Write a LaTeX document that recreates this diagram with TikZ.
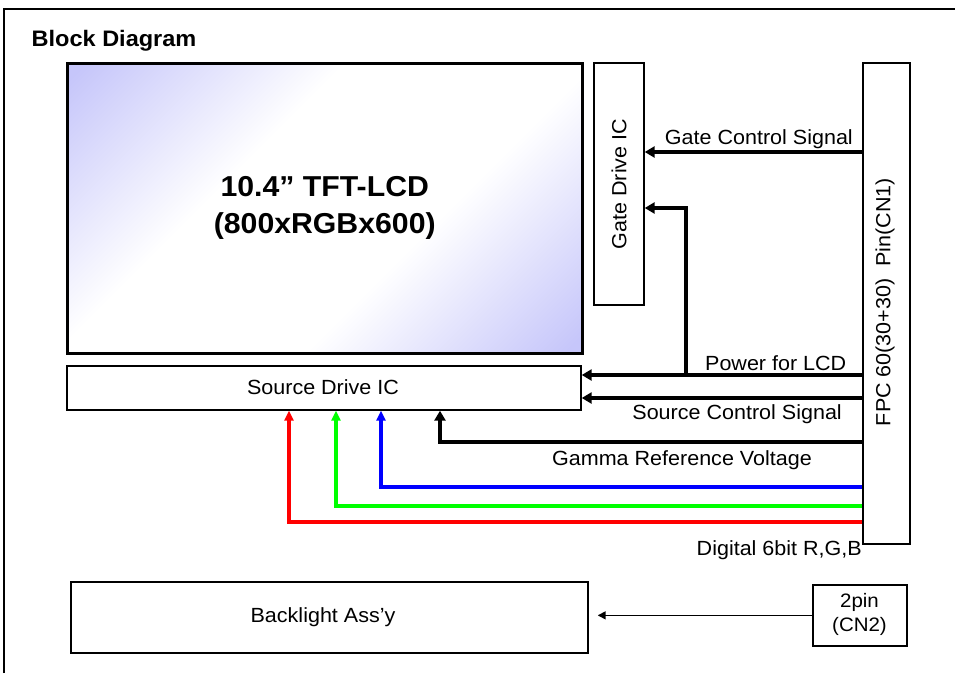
\documentclass[tikz,border=0pt]{standalone}
\usepackage{fontspec}
\setmainfont{Liberation Sans}[FakeStretch=1.05]
\usetikzlibrary{arrows.meta}
\definecolor{lav}{RGB}{198,198,250}
\definecolor{rgbred}{RGB}{255,0,0}
\definecolor{rgbgreen}{RGB}{0,255,0}
\definecolor{rgbblue}{RGB}{0,0,255}
\pgfdeclareverticalshading{lcdshade}{100bp}{color(0bp)=(lav); color(16bp)=(lav); color(39bp)=(white); color(61bp)=(white); color(84bp)=(lav); color(100bp)=(lav)}
\tikzset{
  box/.style={draw=black, line width=1.7pt, inner sep=0pt, anchor=north west},
  lbl/.style={inner sep=0pt, font=\fontsize{20.5}{24}\selectfont},
  bigarrow/.style={line width=4.5pt, -{Triangle[length=10pt,width=11pt]}},
  colarrow/.style={line width=3.5pt, -{Triangle[length=10pt,width=9pt]}},
  thinarrow/.style={line width=1.5pt, -{Triangle[length=8pt,width=8pt]}},
}
\begin{document}
\begin{tikzpicture}[x=1pt,y=-1pt]
\useasboundingbox (0,0) rectangle (955,673);
\fill[white] (0,0) rectangle (955,673);
\draw[line width=1.3pt] (4,673) -- (4,9) -- (955,9);
\node[anchor=base west, inner sep=0pt, font=\fontsize{22.4}{26}\selectfont\bfseries] (title) at (31.5,46) {Block Diagram};
% LCD panel
\node[box, line width=2.5pt, minimum width=515pt, minimum height=290pt,
      shade, shading=lcdshade, shading angle=45,
      align=center, font=\fontsize{28.8}{37}\selectfont\bfseries] (lcd) at (66,62)
      {10.4” TFT-LCD\\(800xRGBx600)};
% Gate drive IC
\node[box, minimum width=50pt, minimum height=242pt] (gate) at (593,62) {};
\node[lbl, rotate=90] (gatetxt) at (619,184) {Gate Drive IC};
% FPC
\node[box, minimum width=47pt, minimum height=481pt] (fpc) at (862,62) {};
\node[lbl, rotate=90] (fpctxt) at (885,302) {FPC 60(30+30)\ \ Pin(CN1)};
% Source drive IC
\node[box, minimum width=514pt, minimum height=44pt] (src) at (66,365) {};
\node[lbl] (srctxt) at (323,387) {Source Drive IC};
% Backlight
\node[box, minimum width=517pt, minimum height=71pt] (bl) at (70,581) {};
\node[lbl] (bltxt) at (323,617) {Backlight Ass’y};
\node[box, minimum width=94pt, minimum height=61pt] (pin) at (812,584) {};
\node[lbl, align=center, font=\fontsize{19.5}{24}\selectfont] (pintxt) at (859.5,614.5) {2pin\\(CN2)};
% coordinates
\coordinate (gc) at (0,152);
\coordinate (gp) at (0,208);
\coordinate (pj) at (686,375);
\coordinate (pw) at (0,375);
\coordinate (sc) at (0,398);
\coordinate (gm) at (0,442);
\coordinate (gx) at (440,0);
\coordinate (by) at (0,487);
\coordinate (bx) at (381,0);
\coordinate (gy) at (0,506);
\coordinate (gxx) at (336,0);
\coordinate (ry) at (0,522);
\coordinate (rx) at (289,0);
% connectors
\draw[bigarrow] (fpc.west |- gc) -- (gate.east |- gc);
\draw[bigarrow] (pj) |- (gate.east |- gp);
\draw[bigarrow] (fpc.west |- pw) -- (src.east |- pw);
\draw[bigarrow] (fpc.west |- sc) -- (src.east |- sc);
\draw[bigarrow] (fpc.west |- gm) -| (src.south -| gx);
\draw[colarrow, rgbblue] (fpc.west |- by) -| (src.south -| bx);
\draw[colarrow, rgbgreen] (fpc.west |- gy) -| (src.south -| gxx);
\draw[colarrow, rgbred] (fpc.west |- ry) -| (src.south -| rx);
\draw[thinarrow, shorten >=9pt] (pin.west) -- (pin.west -| bl.east);
% labels
\node[lbl, anchor=base east] (l1) at (853,144) {Gate Control Signal};
\node[lbl, anchor=base east] (l2) at (846.5,370.5) {Power for LCD};
\node[lbl, anchor=base east] (l3) at (842,419) {Source Control Signal};
\node[lbl, anchor=base east] (l4) at (812,465) {Gamma Reference Voltage};
\node[lbl, anchor=base east] (l5) at (862,555) {Digital 6bit R,G,B};
\end{tikzpicture}
\end{document}
